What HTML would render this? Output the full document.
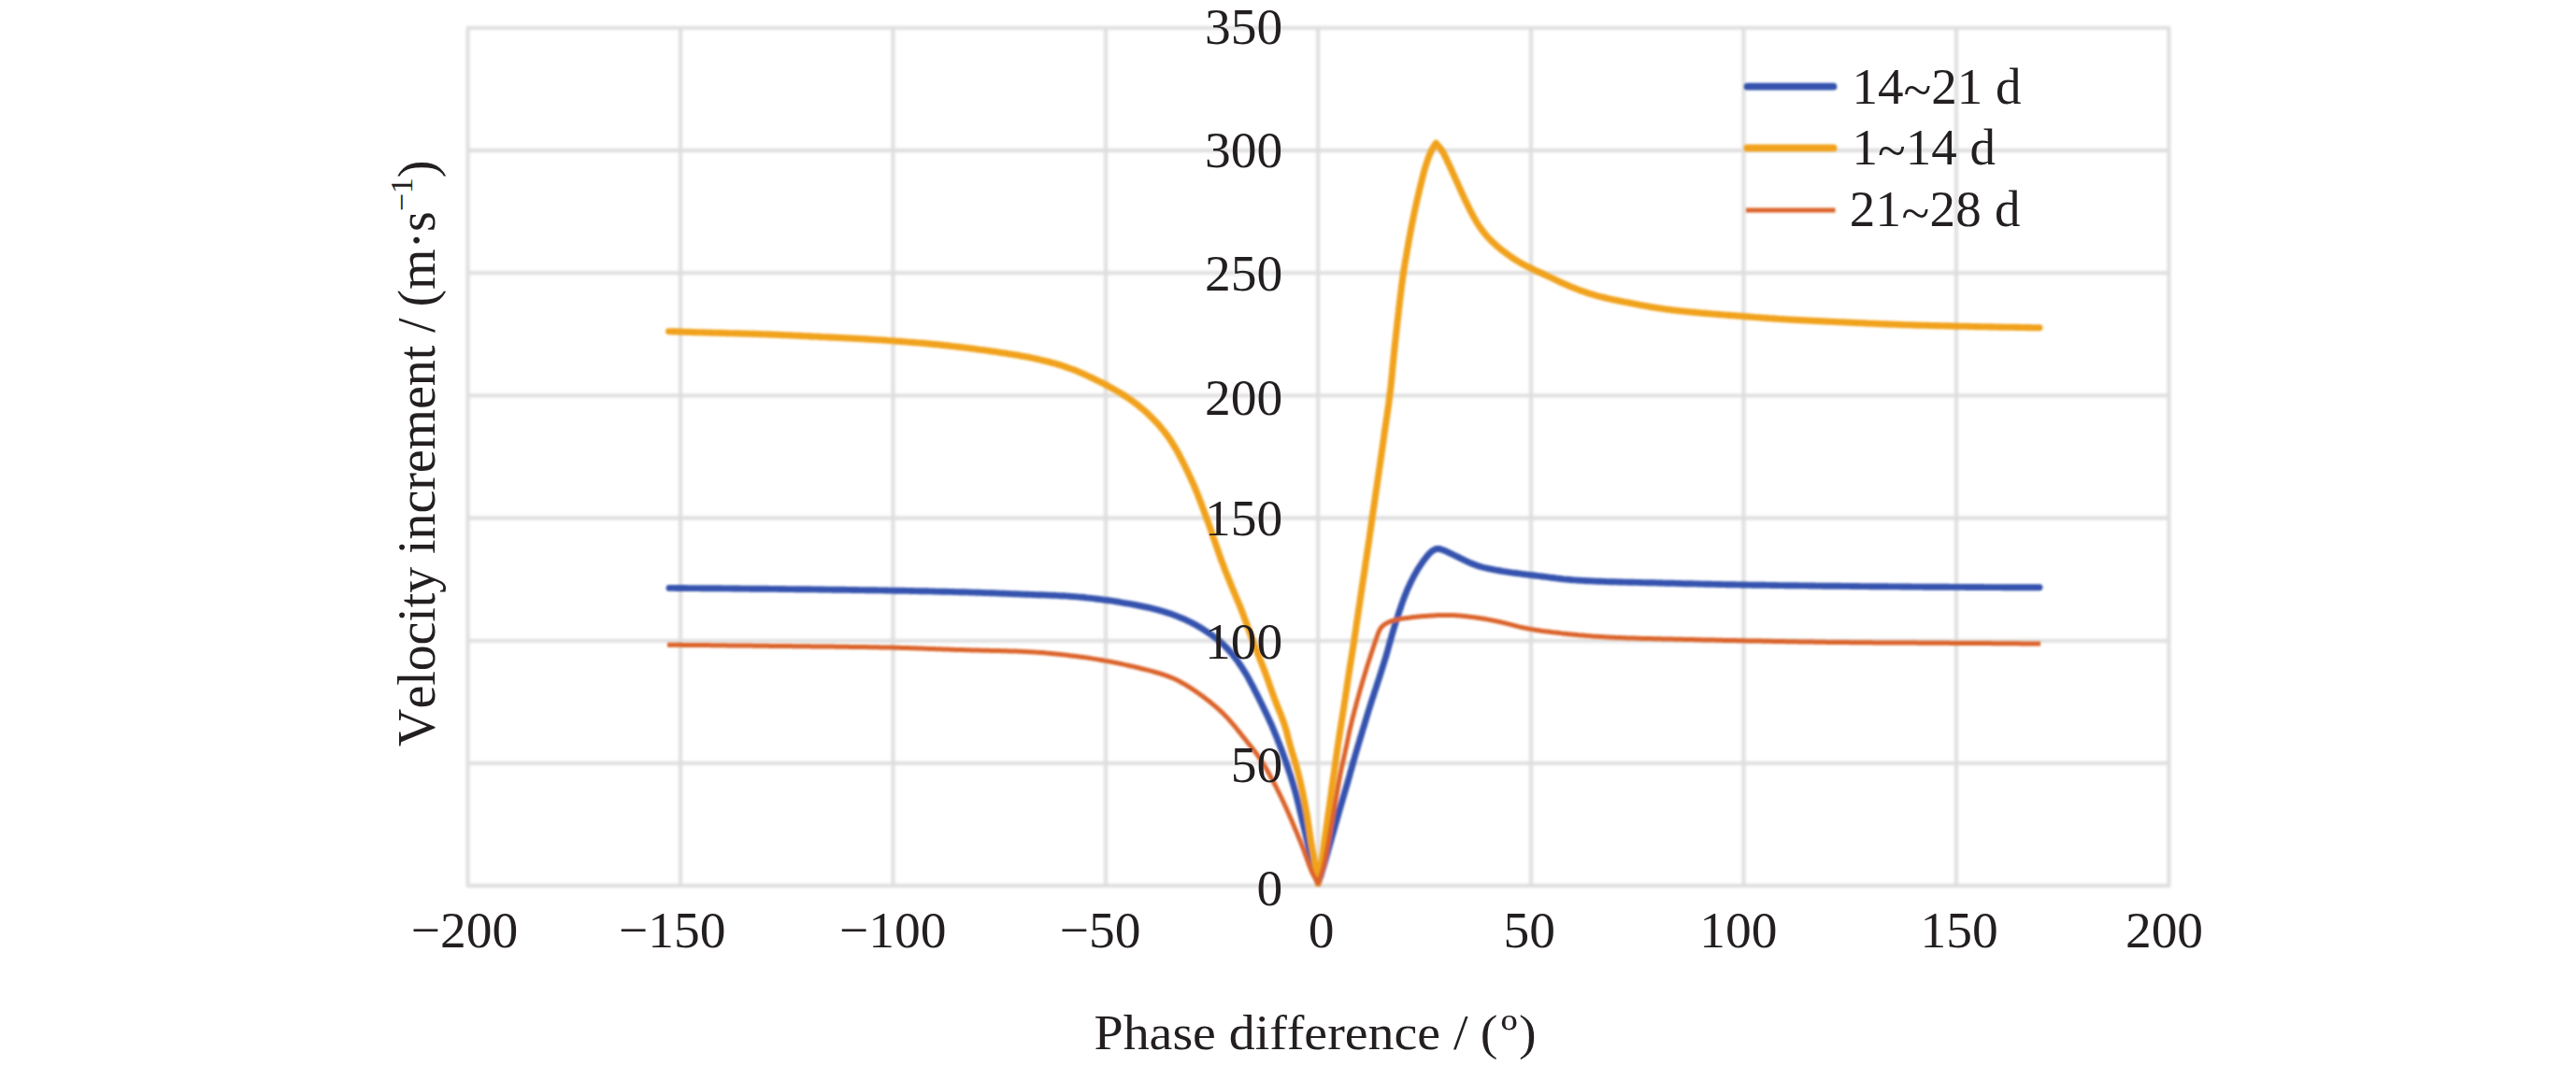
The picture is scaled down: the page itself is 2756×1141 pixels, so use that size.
<!DOCTYPE html>
<html><head><meta charset="utf-8"><title>Velocity increment vs phase difference</title>
<style>
html,body{margin:0;padding:0;background:#fff;}
body{width:2756px;height:1141px;overflow:hidden;}
svg{display:block;}
text{font-family:"Liberation Serif","Times New Roman",serif;font-size:56px;fill:#231f20;font-kerning:none;}
.grid line{stroke:#dddddd;stroke-width:3.8;}
</style></head><body>
<svg width="2756" height="1141" viewBox="0 0 2756 1141">
<rect width="2756" height="1141" fill="#ffffff"/>
<defs><filter id="soft" filterUnits="userSpaceOnUse" x="0" y="0" width="2756" height="1141"><feGaussianBlur stdDeviation="1.3"/></filter><filter id="softer" filterUnits="userSpaceOnUse" x="0" y="0" width="2756" height="1141"><feGaussianBlur stdDeviation="1.8"/></filter></defs>
<g class="grid" filter="url(#softer)"><line x1="500.5" y1="29.8" x2="500.5" y2="948"/><line x1="728" y1="29.8" x2="728" y2="948"/><line x1="955.5" y1="29.8" x2="955.5" y2="948"/><line x1="1183" y1="29.8" x2="1183" y2="948"/><line x1="1410.2" y1="29.8" x2="1410.2" y2="948"/><line x1="1638" y1="29.8" x2="1638" y2="948"/><line x1="1865.5" y1="29.8" x2="1865.5" y2="948"/><line x1="2093" y1="29.8" x2="2093" y2="948"/><line x1="2320.5" y1="29.8" x2="2320.5" y2="948"/><line x1="499.0" y1="29.8" x2="2322.0" y2="29.8"/><line x1="499.0" y1="161" x2="2322.0" y2="161"/><line x1="499.0" y1="292.1" x2="2322.0" y2="292.1"/><line x1="499.0" y1="423.3" x2="2322.0" y2="423.3"/><line x1="499.0" y1="554.5" x2="2322.0" y2="554.5"/><line x1="499.0" y1="685.8" x2="2322.0" y2="685.8"/><line x1="499.0" y1="816.8" x2="2322.0" y2="816.8"/><line x1="499.0" y1="948" x2="2322.0" y2="948"/></g>
<g filter="url(#soft)">
<g><path d="M716.0 629.4 L718.0 629.4 L721.0 629.4 L723.0 629.5 L726.0 629.5 L728.0 629.5 L731.0 629.5 L733.0 629.5 L736.0 629.6 L738.0 629.6 L741.0 629.6 L743.0 629.6 L746.0 629.6 L748.0 629.6 L751.0 629.7 L753.0 629.7 L756.0 629.7 L758.0 629.7 L761.0 629.8 L763.0 629.8 L766.0 629.8 L768.0 629.8 L771.0 629.8 L773.0 629.9 L776.0 629.9 L778.0 629.9 L781.0 629.9 L783.0 630.0 L786.0 630.0 L788.0 630.0 L791.0 630.0 L793.0 630.1 L796.0 630.1 L798.0 630.1 L801.0 630.1 L803.0 630.2 L806.0 630.2 L808.0 630.2 L811.0 630.2 L814.0 630.3 L816.0 630.3 L819.0 630.3 L821.0 630.3 L824.0 630.4 L826.0 630.4 L829.0 630.4 L831.0 630.4 L834.0 630.5 L836.0 630.5 L839.0 630.5 L841.0 630.6 L844.0 630.6 L846.0 630.6 L849.0 630.6 L851.0 630.7 L854.0 630.7 L856.0 630.7 L859.0 630.8 L861.0 630.8 L864.0 630.8 L866.0 630.8 L869.0 630.9 L871.0 630.9 L874.0 630.9 L876.0 631.0 L879.0 631.0 L881.0 631.0 L884.0 631.1 L886.0 631.1 L889.0 631.1 L891.0 631.2 L894.0 631.2 L896.0 631.2 L899.0 631.3 L901.0 631.3 L904.0 631.3 L906.0 631.4 L909.0 631.4 L912.0 631.5 L914.0 631.5 L917.0 631.5 L919.1 631.6 L922.1 631.6 L924.1 631.6 L927.1 631.7 L929.1 631.7 L932.1 631.7 L934.1 631.8 L937.1 631.8 L939.1 631.9 L942.1 631.9 L944.1 631.9 L947.1 632.0 L949.1 632.0 L952.1 632.1 L954.1 632.1 L957.1 632.2 L959.1 632.2 L962.1 632.2 L964.1 632.3 L967.1 632.3 L969.1 632.4 L972.1 632.4 L974.1 632.5 L977.1 632.5 L979.1 632.6 L982.1 632.6 L984.1 632.7 L987.1 632.7 L989.1 632.8 L992.1 632.8 L994.1 632.9 L997.1 632.9 L999.1 633.0 L1002.1 633.1 L1004.1 633.1 L1007.1 633.2 L1010.1 633.2 L1012.1 633.3 L1015.1 633.4 L1017.1 633.4 L1020.1 633.5 L1022.1 633.6 L1025.1 633.6 L1027.1 633.7 L1030.1 633.8 L1032.1 633.8 L1035.1 633.9 L1037.1 634.0 L1040.1 634.1 L1042.1 634.1 L1045.1 634.2 L1047.1 634.3 L1050.1 634.4 L1052.1 634.5 L1055.1 634.6 L1057.1 634.6 L1060.1 634.7 L1062.1 634.8 L1065.1 634.9 L1067.1 635.0 L1070.0 635.1 L1072.0 635.2 L1075.0 635.3 L1077.0 635.4 L1080.0 635.5 L1082.0 635.6 L1085.0 635.7 L1087.0 635.8 L1090.0 635.9 L1092.0 636.0 L1095.0 636.1 L1097.0 636.2 L1100.0 636.3 L1102.0 636.4 L1105.0 636.5 L1108.0 636.6 L1110.0 636.7 L1113.0 636.8 L1115.0 636.8 L1118.0 636.9 L1120.0 637.0 L1123.0 637.1 L1125.0 637.2 L1128.0 637.3 L1130.0 637.4 L1133.0 637.6 L1135.0 637.7 L1138.0 637.8 L1140.0 637.9 L1143.0 638.1 L1145.0 638.3 L1148.0 638.5 L1150.0 638.6 L1153.0 638.9 L1155.0 639.1 L1158.0 639.3 L1160.0 639.5 L1162.9 639.9 L1164.9 640.1 L1167.9 640.4 L1169.9 640.6 L1172.9 641.0 L1174.9 641.2 L1177.8 641.6 L1179.8 641.9 L1182.8 642.3 L1184.8 642.5 L1187.8 642.9 L1189.7 643.2 L1192.7 643.7 L1194.7 644.0 L1197.6 644.4 L1199.6 644.8 L1202.6 645.3 L1205.5 645.8 L1207.5 646.1 L1210.5 646.7 L1212.4 647.0 L1215.4 647.6 L1217.3 648.0 L1220.3 648.6 L1222.2 649.0 L1225.2 649.6 L1227.1 650.0 L1230.1 650.7 L1232.0 651.2 L1234.9 651.9 L1236.9 652.4 L1239.8 653.1 L1241.7 653.7 L1244.6 654.5 L1246.5 655.1 L1249.3 656.0 L1251.2 656.6 L1254.1 657.6 L1255.9 658.3 L1258.7 659.4 L1260.6 660.1 L1263.4 661.3 L1265.2 662.0 L1268.0 663.2 L1269.8 664.1 L1272.5 665.4 L1274.3 666.2 L1276.9 667.6 L1278.7 668.6 L1281.3 670.0 L1283.0 671.1 L1285.6 672.6 L1287.3 673.7 L1289.8 675.3 L1291.5 676.4 L1294.0 678.1 L1296.4 679.8 L1298.0 681.0 L1300.4 682.8 L1302.0 684.0 L1304.3 685.9 L1305.8 687.2 L1308.0 689.2 L1309.5 690.6 L1311.6 692.7 L1313.0 694.2 L1315.0 696.4 L1316.4 697.9 L1318.3 700.1 L1319.6 701.7 L1321.4 704.0 L1322.6 705.6 L1324.4 708.1 L1325.5 709.7 L1327.2 712.2 L1328.3 713.8 L1329.9 716.4 L1331.0 718.1 L1332.6 720.6 L1333.6 722.3 L1335.1 724.9 L1336.1 726.7 L1337.5 729.3 L1338.4 731.1 L1339.8 733.7 L1340.8 735.5 L1342.1 738.2 L1343.0 740.0 L1344.4 742.6 L1345.3 744.4 L1346.6 747.1 L1347.5 748.9 L1348.8 751.6 L1349.7 753.4 L1351.0 756.1 L1352.3 758.8 L1353.2 760.6 L1354.5 763.3 L1355.4 765.1 L1356.6 767.8 L1357.5 769.6 L1358.7 772.4 L1359.6 774.2 L1360.8 776.9 L1361.6 778.8 L1362.7 781.5 L1363.5 783.4 L1364.6 786.2 L1365.4 788.0 L1366.5 790.8 L1367.2 792.7 L1368.3 795.4 L1369.1 797.3 L1370.1 800.1 L1370.9 802.0 L1371.9 804.8 L1372.6 806.7 L1373.6 809.5 L1374.3 811.4 L1375.3 814.2 L1376.0 816.1 L1376.9 818.9 L1377.6 820.8 L1378.5 823.7 L1379.1 825.6 L1380.1 828.4 L1380.7 830.3 L1381.6 833.2 L1382.1 835.1 L1383.0 838.0 L1383.6 839.9 L1384.4 842.8 L1385.0 844.7 L1385.8 847.6 L1386.6 850.5 L1387.1 852.4 L1387.8 855.3 L1388.3 857.3 L1389.0 860.2 L1389.5 862.1 L1390.2 865.1 L1390.6 867.0 L1391.3 869.9 L1391.8 871.9 L1392.5 874.8 L1392.9 876.7 L1393.6 879.7 L1394.1 881.6 L1394.8 884.5 L1395.3 886.5 L1396.0 889.4 L1396.5 891.3 L1397.2 894.2 L1397.6 896.2 L1398.3 899.1 L1398.8 901.0 L1399.5 904.0 L1400.0 905.9 L1400.7 908.8 L1401.2 910.8 L1401.9 913.7 L1402.4 915.6 L1403.2 918.5 L1403.7 920.5 L1404.4 923.4 L1404.9 925.3 L1405.7 928.2 L1406.2 930.1 L1406.9 933.0 L1407.5 935.0 L1408.2 937.9 L1408.7 939.8 L1409.5 942.7 L1410.3 945.6 L1410.9 943.7 L1411.8 940.8 L1412.5 938.9 L1413.4 936.1 L1414.0 934.2 L1414.8 931.3 L1415.4 929.4 L1416.3 926.5 L1416.8 924.6 L1417.7 921.7 L1418.2 919.8 L1419.0 916.9 L1419.6 915.0 L1420.4 912.1 L1420.9 910.1 L1421.8 907.2 L1422.3 905.3 L1423.1 902.4 L1423.7 900.5 L1424.5 897.6 L1425.0 895.7 L1425.9 892.8 L1426.4 890.9 L1427.2 888.0 L1427.8 886.1 L1428.6 883.2 L1429.1 881.2 L1430.0 878.4 L1430.5 876.4 L1431.3 873.5 L1431.9 871.6 L1432.7 868.7 L1433.2 866.8 L1434.1 863.9 L1434.6 862.0 L1435.5 859.1 L1436.0 857.2 L1436.9 854.3 L1437.4 852.4 L1438.3 849.5 L1438.8 847.6 L1439.7 844.7 L1440.2 842.8 L1441.1 839.9 L1441.6 838.0 L1442.4 835.1 L1443.0 833.2 L1443.8 830.3 L1444.3 828.3 L1445.1 825.4 L1445.7 823.5 L1446.5 820.6 L1447.0 818.7 L1447.8 815.8 L1448.3 813.9 L1449.2 811.0 L1449.7 809.1 L1450.6 806.2 L1451.1 804.3 L1452.0 801.4 L1452.5 799.5 L1453.4 796.6 L1454.0 794.7 L1454.8 791.8 L1455.4 789.9 L1456.3 787.0 L1456.9 785.1 L1457.7 782.2 L1458.6 779.3 L1459.2 777.4 L1460.1 774.5 L1460.6 772.6 L1461.5 769.8 L1462.1 767.8 L1462.9 765.0 L1463.5 763.0 L1464.4 760.2 L1465.0 758.3 L1465.9 755.4 L1466.5 753.5 L1467.4 750.6 L1468.0 748.7 L1469.0 745.9 L1469.6 744.0 L1470.5 741.1 L1471.1 739.2 L1472.1 736.4 L1472.7 734.5 L1473.6 731.6 L1474.2 729.7 L1475.2 726.8 L1475.8 724.9 L1476.7 722.1 L1477.3 720.2 L1478.2 717.3 L1478.8 715.4 L1479.7 712.5 L1480.3 710.6 L1481.2 707.8 L1481.8 705.8 L1482.7 703.0 L1483.2 701.0 L1484.0 698.2 L1484.6 696.2 L1485.4 693.3 L1485.9 691.4 L1486.7 688.5 L1487.3 686.6 L1488.1 683.7 L1488.6 681.8 L1489.4 678.9 L1490.0 677.0 L1490.9 674.1 L1491.4 672.2 L1492.3 669.3 L1492.9 667.4 L1493.8 664.5 L1494.4 662.6 L1495.4 659.8 L1496.0 657.9 L1496.9 655.0 L1497.5 653.1 L1498.5 650.3 L1499.1 648.4 L1500.1 645.5 L1500.8 643.6 L1501.8 640.8 L1502.5 639.0 L1503.6 636.2 L1504.4 634.3 L1505.5 631.5 L1506.3 629.7 L1507.6 627.0 L1508.4 625.2 L1509.7 622.5 L1510.6 620.7 L1512.0 618.0 L1513.4 615.4 L1514.4 613.6 L1515.9 611.0 L1516.9 609.3 L1518.5 606.7 L1519.6 605.1 L1521.3 602.6 L1522.4 601.0 L1524.2 598.5 L1525.5 597.0 L1527.4 594.6 L1528.7 593.1 L1530.8 591.0 L1532.3 589.7 L1534.9 588.2 L1536.7 587.5 L1539.7 587.5 L1541.6 587.9 L1544.4 588.9 L1546.3 589.7 L1549.0 591.0 L1550.8 591.8 L1553.5 593.1 L1555.3 594.0 L1558.0 595.3 L1559.8 596.2 L1562.5 597.6 L1564.3 598.4 L1567.0 599.8 L1568.8 600.6 L1571.5 601.9 L1573.4 602.7 L1576.1 603.8 L1578.0 604.6 L1580.8 605.6 L1582.7 606.2 L1585.6 607.0 L1587.5 607.5 L1590.5 608.2 L1592.4 608.6 L1595.4 609.2 L1597.3 609.6 L1600.3 610.2 L1602.3 610.5 L1605.2 611.0 L1607.2 611.4 L1610.2 611.8 L1612.1 612.1 L1615.1 612.6 L1617.1 612.9 L1620.1 613.3 L1622.0 613.5 L1625.0 613.9 L1627.0 614.2 L1630.0 614.6 L1632.0 614.8 L1635.0 615.2 L1636.9 615.4 L1639.9 615.8 L1641.9 616.0 L1644.9 616.4 L1646.9 616.6 L1649.9 617.0 L1651.8 617.2 L1654.8 617.6 L1656.8 617.9 L1659.8 618.3 L1661.8 618.5 L1664.8 618.9 L1667.7 619.3 L1669.7 619.5 L1672.7 619.9 L1674.7 620.1 L1677.7 620.3 L1679.7 620.5 L1682.7 620.8 L1684.7 620.9 L1687.6 621.1 L1689.6 621.2 L1692.6 621.4 L1694.6 621.5 L1697.6 621.7 L1699.6 621.8 L1702.6 621.9 L1704.6 622.0 L1707.6 622.1 L1709.6 622.2 L1712.6 622.3 L1714.6 622.4 L1717.6 622.5 L1719.6 622.6 L1722.6 622.7 L1724.7 622.7 L1727.7 622.8 L1729.7 622.9 L1732.7 623.0 L1734.7 623.0 L1737.7 623.1 L1739.7 623.1 L1742.7 623.2 L1744.7 623.3 L1747.7 623.3 L1749.7 623.4 L1752.7 623.4 L1754.7 623.5 L1757.7 623.6 L1759.7 623.6 L1762.7 623.7 L1764.7 623.7 L1767.7 623.8 L1769.7 623.8 L1772.7 623.9 L1774.7 624.0 L1777.7 624.0 L1779.7 624.1 L1782.7 624.2 L1784.7 624.2 L1787.7 624.3 L1789.7 624.3 L1792.7 624.4 L1794.7 624.5 L1797.7 624.5 L1799.7 624.6 L1802.7 624.7 L1804.7 624.7 L1807.7 624.8 L1809.7 624.8 L1812.7 624.9 L1814.7 624.9 L1817.7 625.0 L1819.7 625.1 L1822.7 625.1 L1824.7 625.2 L1827.7 625.2 L1829.7 625.3 L1832.7 625.4 L1834.7 625.4 L1837.7 625.5 L1840.7 625.5 L1842.7 625.6 L1845.7 625.6 L1847.7 625.7 L1850.7 625.7 L1852.7 625.8 L1855.7 625.8 L1857.7 625.9 L1860.7 625.9 L1862.7 626.0 L1865.7 626.0 L1867.7 626.0 L1870.7 626.1 L1872.7 626.1 L1875.7 626.2 L1877.7 626.2 L1880.7 626.2 L1882.7 626.3 L1885.8 626.3 L1887.8 626.3 L1890.8 626.4 L1892.8 626.4 L1895.8 626.5 L1897.8 626.5 L1900.8 626.5 L1902.8 626.6 L1905.8 626.6 L1907.8 626.6 L1910.8 626.7 L1912.8 626.7 L1915.8 626.7 L1917.8 626.8 L1920.8 626.8 L1922.8 626.8 L1925.8 626.9 L1927.8 626.9 L1930.8 626.9 L1932.8 626.9 L1935.8 627.0 L1937.8 627.0 L1940.8 627.0 L1942.8 627.1 L1945.8 627.1 L1947.8 627.1 L1950.8 627.2 L1952.8 627.2 L1955.8 627.2 L1957.8 627.2 L1960.8 627.3 L1962.8 627.3 L1965.8 627.3 L1967.8 627.3 L1970.8 627.4 L1972.8 627.4 L1975.8 627.4 L1977.8 627.4 L1980.8 627.5 L1982.8 627.5 L1985.8 627.5 L1987.8 627.5 L1990.8 627.6 L1992.8 627.6 L1995.8 627.6 L1997.8 627.6 L2000.8 627.7 L2002.8 627.7 L2005.8 627.7 L2007.9 627.7 L2010.9 627.8 L2013.9 627.8 L2015.9 627.8 L2018.9 627.8 L2020.9 627.9 L2023.9 627.9 L2025.9 627.9 L2028.9 627.9 L2030.9 627.9 L2033.9 628.0 L2035.9 628.0 L2038.9 628.0 L2040.9 628.0 L2043.9 628.0 L2045.9 628.1 L2048.9 628.1 L2050.9 628.1 L2053.9 628.1 L2055.9 628.1 L2058.9 628.2 L2060.9 628.2 L2063.9 628.2 L2065.9 628.2 L2068.9 628.2 L2070.9 628.3 L2073.9 628.3 L2075.9 628.3 L2078.9 628.3 L2080.9 628.3 L2083.9 628.3 L2085.9 628.4 L2088.9 628.4 L2090.9 628.4 L2093.9 628.4 L2095.9 628.4 L2098.9 628.4 L2100.9 628.4 L2103.9 628.5 L2105.9 628.5 L2108.9 628.5 L2110.9 628.5 L2113.9 628.5 L2115.9 628.5 L2118.9 628.5 L2120.9 628.5 L2123.9 628.6 L2126.0 628.6 L2129.0 628.6 L2131.0 628.6 L2134.0 628.6 L2136.0 628.6 L2139.0 628.6 L2141.0 628.6 L2144.0 628.7 L2146.0 628.7 L2149.0 628.7 L2151.0 628.7 L2154.0 628.7 L2156.0 628.7 L2159.0 628.7 L2161.0 628.7 L2164.0 628.7 L2166.0 628.7 L2169.0 628.8 L2171.0 628.8 L2174.0 628.8 L2176.0 628.8 L2179.0 628.8 L2182.0 628.8" fill="none" stroke="#3553ae" stroke-width="6.9" stroke-linecap="round" stroke-linejoin="round"/><path d="M715.5 354.7 L717.5 354.8 L720.5 354.9 L722.5 354.9 L725.5 355.0 L727.5 355.1 L730.5 355.2 L732.5 355.3 L735.5 355.4 L737.5 355.4 L740.5 355.5 L742.5 355.6 L745.5 355.7 L747.5 355.7 L750.5 355.8 L752.5 355.9 L755.5 356.0 L757.5 356.0 L760.5 356.1 L762.5 356.2 L765.5 356.2 L767.5 356.3 L770.5 356.4 L772.5 356.4 L775.5 356.5 L777.5 356.6 L780.5 356.7 L782.5 356.7 L785.5 356.8 L787.5 356.9 L790.5 356.9 L792.5 357.0 L795.5 357.1 L797.5 357.1 L800.5 357.2 L802.5 357.3 L805.5 357.4 L807.5 357.4 L810.5 357.5 L812.5 357.6 L815.5 357.7 L817.5 357.8 L820.5 357.9 L822.5 357.9 L825.5 358.1 L827.5 358.1 L830.5 358.3 L832.5 358.4 L835.5 358.5 L837.4 358.6 L840.4 358.7 L842.4 358.8 L845.4 358.9 L847.4 359.0 L850.4 359.2 L853.4 359.3 L855.4 359.4 L858.4 359.6 L860.4 359.7 L863.4 359.8 L865.4 359.9 L868.4 360.1 L870.4 360.2 L873.4 360.3 L875.4 360.4 L878.4 360.6 L880.4 360.7 L883.4 360.8 L885.4 360.9 L888.4 361.1 L890.4 361.1 L893.4 361.3 L895.4 361.4 L898.4 361.5 L900.4 361.6 L903.4 361.8 L905.4 361.9 L908.4 362.0 L910.4 362.1 L913.4 362.3 L915.4 362.4 L918.4 362.5 L920.4 362.6 L923.4 362.8 L925.4 362.9 L928.3 363.1 L930.3 363.2 L933.3 363.4 L935.3 363.5 L938.3 363.7 L940.3 363.8 L943.3 364.0 L945.3 364.1 L948.3 364.3 L950.3 364.5 L953.3 364.7 L955.3 364.8 L958.3 365.1 L960.3 365.2 L963.3 365.4 L965.3 365.6 L968.3 365.8 L970.3 366.0 L973.2 366.2 L975.2 366.4 L978.2 366.6 L980.2 366.8 L983.2 367.0 L986.2 367.3 L988.2 367.4 L991.2 367.7 L993.2 367.9 L996.2 368.2 L998.2 368.4 L1001.1 368.6 L1003.1 368.8 L1006.1 369.1 L1008.1 369.4 L1011.1 369.7 L1013.1 369.9 L1016.1 370.2 L1018.0 370.5 L1021.0 370.8 L1023.0 371.0 L1026.0 371.4 L1028.0 371.6 L1031.0 372.0 L1032.9 372.2 L1035.9 372.6 L1037.9 372.9 L1040.9 373.2 L1042.9 373.5 L1045.8 373.9 L1047.8 374.2 L1050.8 374.5 L1052.8 374.8 L1055.7 375.2 L1057.7 375.5 L1060.7 375.9 L1062.7 376.2 L1065.6 376.6 L1067.6 376.9 L1070.6 377.4 L1072.6 377.7 L1075.5 378.1 L1077.5 378.4 L1080.5 378.9 L1082.5 379.2 L1085.4 379.7 L1087.4 380.0 L1090.3 380.5 L1092.3 380.9 L1095.3 381.4 L1097.2 381.8 L1100.2 382.3 L1102.1 382.7 L1105.1 383.4 L1107.0 383.8 L1110.0 384.4 L1111.9 384.9 L1114.8 385.6 L1117.7 386.3 L1119.7 386.7 L1122.6 387.5 L1124.5 388.0 L1127.4 388.8 L1129.4 389.3 L1132.2 390.2 L1134.1 390.7 L1137.0 391.7 L1138.9 392.3 L1141.7 393.3 L1143.6 394.0 L1146.4 395.0 L1148.3 395.7 L1151.1 396.8 L1152.9 397.6 L1155.7 398.8 L1157.5 399.6 L1160.2 400.8 L1162.1 401.6 L1164.8 402.9 L1166.6 403.7 L1169.3 405.0 L1171.1 405.9 L1173.8 407.2 L1175.6 408.1 L1178.3 409.4 L1180.1 410.3 L1182.7 411.7 L1184.5 412.7 L1187.1 414.1 L1188.9 415.1 L1191.5 416.6 L1193.2 417.5 L1195.8 419.0 L1197.5 420.0 L1200.1 421.6 L1201.8 422.6 L1204.3 424.3 L1206.0 425.4 L1208.5 427.1 L1210.1 428.2 L1212.5 430.0 L1214.1 431.2 L1216.5 433.0 L1218.1 434.3 L1220.4 436.2 L1221.9 437.4 L1224.2 439.4 L1225.7 440.7 L1227.9 442.7 L1229.3 444.1 L1231.5 446.2 L1233.6 448.3 L1235.0 449.8 L1237.1 451.9 L1238.4 453.4 L1240.4 455.7 L1241.7 457.2 L1243.6 459.5 L1244.9 461.0 L1246.7 463.4 L1247.9 465.0 L1249.7 467.4 L1250.8 469.1 L1252.5 471.6 L1253.6 473.2 L1255.2 475.8 L1256.2 477.5 L1257.8 480.0 L1258.8 481.8 L1260.2 484.4 L1261.2 486.1 L1262.6 488.8 L1263.5 490.6 L1264.9 493.2 L1265.8 495.0 L1267.1 497.7 L1268.0 499.5 L1269.3 502.2 L1270.2 504.0 L1271.5 506.7 L1272.3 508.5 L1273.6 511.2 L1274.4 513.0 L1275.7 515.8 L1276.5 517.6 L1277.7 520.4 L1278.4 522.2 L1279.6 525.0 L1280.4 526.8 L1281.5 529.6 L1282.2 531.5 L1283.3 534.3 L1284.0 536.1 L1285.1 538.9 L1285.8 540.8 L1286.8 543.6 L1287.5 545.5 L1288.6 548.3 L1289.3 550.2 L1290.3 553.0 L1291.0 554.9 L1292.0 557.7 L1292.7 559.6 L1293.7 562.4 L1294.7 565.2 L1295.4 567.1 L1296.3 570.0 L1297.0 571.8 L1298.0 574.7 L1298.6 576.6 L1299.6 579.4 L1300.3 581.3 L1301.2 584.1 L1301.9 586.0 L1302.9 588.9 L1303.5 590.7 L1304.5 593.6 L1305.2 595.5 L1306.2 598.3 L1306.9 600.2 L1308.0 603.0 L1308.7 604.8 L1309.7 607.6 L1310.4 609.5 L1311.5 612.3 L1312.3 614.2 L1313.4 617.0 L1314.1 618.8 L1315.3 621.6 L1316.0 623.4 L1317.1 626.2 L1317.9 628.1 L1319.0 630.8 L1319.8 632.7 L1321.0 635.5 L1321.7 637.3 L1322.9 640.1 L1323.7 641.9 L1324.9 644.7 L1325.6 646.5 L1326.8 649.3 L1327.5 651.1 L1328.6 653.9 L1329.3 655.8 L1330.4 658.6 L1331.0 660.5 L1332.1 663.3 L1332.8 665.2 L1333.8 668.0 L1334.5 669.9 L1335.5 672.7 L1336.2 674.6 L1337.2 677.4 L1337.9 679.3 L1339.0 682.1 L1339.7 684.0 L1340.7 686.8 L1341.8 689.6 L1342.5 691.4 L1343.6 694.2 L1344.3 696.1 L1345.4 698.9 L1346.2 700.8 L1347.3 703.5 L1348.0 705.4 L1349.1 708.2 L1349.8 710.1 L1350.9 712.9 L1351.6 714.7 L1352.7 717.5 L1353.4 719.4 L1354.4 722.2 L1355.1 724.1 L1356.1 726.9 L1356.8 728.8 L1357.8 731.6 L1358.4 733.5 L1359.4 736.4 L1360.1 738.2 L1361.1 741.1 L1361.8 743.0 L1362.8 745.8 L1363.5 747.6 L1364.6 750.4 L1365.3 752.3 L1366.4 755.1 L1367.1 757.0 L1368.2 759.8 L1369.0 761.6 L1370.1 764.4 L1370.8 766.3 L1371.9 769.1 L1372.6 770.9 L1373.6 773.8 L1374.2 775.6 L1375.1 778.5 L1375.7 780.4 L1376.5 783.3 L1377.0 785.2 L1377.7 788.1 L1378.2 790.1 L1379.0 793.0 L1379.5 794.9 L1380.3 797.8 L1380.8 799.7 L1381.7 802.6 L1382.2 804.5 L1383.1 807.4 L1383.7 809.3 L1384.6 812.2 L1385.4 815.1 L1386.0 817.0 L1386.8 819.9 L1387.4 821.8 L1388.1 824.7 L1388.7 826.6 L1389.4 829.5 L1389.9 831.5 L1390.6 834.4 L1391.1 836.3 L1391.7 839.2 L1392.2 841.2 L1392.8 844.1 L1393.2 846.1 L1393.9 849.0 L1394.3 851.0 L1394.8 853.9 L1395.2 855.9 L1395.8 858.8 L1396.2 860.8 L1396.7 863.7 L1397.1 865.7 L1397.6 868.7 L1398.0 870.6 L1398.5 873.6 L1398.8 875.6 L1399.2 878.5 L1399.5 880.5 L1400.0 883.5 L1400.3 885.4 L1400.7 888.4 L1401.0 890.4 L1401.4 893.4 L1401.7 895.3 L1402.1 898.3 L1402.5 900.3 L1403.0 903.2 L1403.4 905.2 L1403.9 908.1 L1404.3 910.1 L1404.9 913.1 L1405.2 915.0 L1405.8 918.0 L1406.1 919.9 L1406.6 922.9 L1407.0 924.9 L1407.5 927.8 L1407.8 929.8 L1408.3 932.8 L1408.6 934.7 L1409.1 937.7 L1409.4 939.7 L1409.8 942.6 L1410.3 945.6 L1410.6 943.6 L1411.1 940.7 L1411.4 938.7 L1411.9 935.7 L1412.2 933.7 L1412.7 930.8 L1413.0 928.8 L1413.4 925.8 L1413.7 923.8 L1414.2 920.9 L1414.5 918.9 L1414.9 915.9 L1415.2 913.9 L1415.6 911.0 L1415.9 909.0 L1416.3 906.0 L1416.5 904.0 L1416.9 901.1 L1417.2 899.1 L1417.6 896.1 L1417.9 894.1 L1418.3 891.1 L1418.6 889.2 L1419.0 886.2 L1419.3 884.2 L1419.7 881.2 L1420.0 879.2 L1420.4 876.3 L1420.7 874.3 L1421.1 871.3 L1421.4 869.3 L1421.8 866.4 L1422.1 864.4 L1422.5 861.4 L1422.7 859.4 L1423.2 856.4 L1423.4 854.5 L1423.9 851.5 L1424.1 849.5 L1424.6 846.5 L1424.8 844.5 L1425.2 841.6 L1425.5 839.6 L1425.9 836.6 L1426.2 834.6 L1426.6 831.7 L1426.9 829.7 L1427.3 826.7 L1427.6 824.7 L1428.0 821.7 L1428.3 819.8 L1428.7 816.8 L1429.0 814.8 L1429.4 811.8 L1429.8 808.9 L1430.1 806.9 L1430.5 803.9 L1430.8 801.9 L1431.3 798.9 L1431.5 797.0 L1432.0 794.0 L1432.3 792.0 L1432.7 789.0 L1433.0 787.1 L1433.5 784.1 L1433.8 782.1 L1434.2 779.2 L1434.6 777.2 L1435.0 774.2 L1435.3 772.2 L1435.8 769.3 L1436.1 767.3 L1436.6 764.3 L1436.9 762.3 L1437.4 759.4 L1437.7 757.4 L1438.1 754.4 L1438.4 752.5 L1438.9 749.5 L1439.2 747.5 L1439.6 744.5 L1439.9 742.6 L1440.4 739.6 L1440.7 737.6 L1441.1 734.6 L1441.4 732.6 L1441.8 729.7 L1442.1 727.7 L1442.6 724.7 L1442.9 722.8 L1443.3 719.8 L1443.7 717.8 L1444.1 714.8 L1444.4 712.9 L1444.9 709.9 L1445.2 707.9 L1445.7 705.0 L1446.0 703.0 L1446.5 700.0 L1446.8 698.0 L1447.3 695.1 L1447.6 693.1 L1448.1 690.1 L1448.4 688.1 L1448.8 685.2 L1449.1 683.2 L1449.5 680.2 L1450.0 677.3 L1450.3 675.3 L1450.7 672.3 L1451.0 670.3 L1451.4 667.4 L1451.7 665.4 L1452.2 662.4 L1452.4 660.4 L1452.9 657.5 L1453.2 655.5 L1453.6 652.5 L1453.9 650.5 L1454.4 647.6 L1454.7 645.6 L1455.1 642.6 L1455.4 640.6 L1455.9 637.7 L1456.1 635.7 L1456.6 632.7 L1456.9 630.7 L1457.3 627.8 L1457.6 625.8 L1458.1 622.8 L1458.4 620.8 L1458.8 617.9 L1459.1 615.9 L1459.6 612.9 L1459.9 610.9 L1460.3 608.0 L1460.6 606.0 L1461.0 603.0 L1461.3 601.0 L1461.8 598.1 L1462.1 596.1 L1462.5 593.1 L1462.8 591.1 L1463.2 588.2 L1463.5 586.2 L1464.0 583.2 L1464.3 581.2 L1464.7 578.2 L1465.0 576.3 L1465.4 573.3 L1465.7 571.3 L1466.1 568.3 L1466.4 566.4 L1466.8 563.4 L1467.1 561.4 L1467.5 558.4 L1467.8 556.4 L1468.2 553.5 L1468.5 551.5 L1468.9 548.5 L1469.4 545.5 L1469.6 543.6 L1470.1 540.6 L1470.4 538.6 L1470.8 535.6 L1471.1 533.7 L1471.5 530.7 L1471.8 528.7 L1472.2 525.7 L1472.5 523.8 L1473.0 520.8 L1473.3 518.8 L1473.7 515.8 L1474.0 513.8 L1474.4 510.9 L1474.7 508.9 L1475.2 505.9 L1475.4 503.9 L1475.9 501.0 L1476.2 499.0 L1476.6 496.0 L1476.9 494.0 L1477.3 491.1 L1477.6 489.1 L1478.0 486.1 L1478.3 484.1 L1478.7 481.2 L1479.0 479.2 L1479.4 476.2 L1479.7 474.2 L1480.1 471.2 L1480.4 469.3 L1480.8 466.3 L1481.1 464.3 L1481.5 461.3 L1481.8 459.4 L1482.2 456.4 L1482.5 454.4 L1483.0 451.4 L1483.2 449.4 L1483.7 446.5 L1484.0 444.5 L1484.4 441.5 L1484.7 439.5 L1485.1 436.6 L1485.4 434.6 L1485.8 431.6 L1486.0 429.6 L1486.4 426.6 L1486.7 424.7 L1487.0 421.7 L1487.3 419.7 L1487.6 416.7 L1488.0 413.7 L1488.2 411.7 L1488.5 408.7 L1488.7 406.8 L1489.0 403.8 L1489.2 401.8 L1489.5 398.8 L1489.6 396.8 L1489.9 393.8 L1490.1 391.8 L1490.4 388.8 L1490.6 386.8 L1490.9 383.8 L1491.1 381.8 L1491.4 378.9 L1491.6 376.9 L1491.9 373.9 L1492.1 371.9 L1492.4 368.9 L1492.6 366.9 L1493.0 363.9 L1493.2 361.9 L1493.5 358.9 L1493.7 357.0 L1494.0 354.0 L1494.3 352.0 L1494.6 349.0 L1494.8 347.0 L1495.1 344.0 L1495.4 342.0 L1495.7 339.0 L1495.9 337.1 L1496.3 334.1 L1496.5 332.1 L1496.8 329.1 L1497.1 327.1 L1497.4 324.1 L1497.6 322.1 L1498.0 319.2 L1498.2 317.2 L1498.6 314.2 L1498.8 312.2 L1499.2 309.2 L1499.4 307.2 L1499.8 304.3 L1500.1 302.3 L1500.5 299.3 L1500.8 297.3 L1501.2 294.3 L1501.5 292.4 L1501.9 289.4 L1502.2 287.4 L1502.7 284.5 L1503.2 281.5 L1503.5 279.5 L1504.0 276.6 L1504.4 274.6 L1504.9 271.6 L1505.2 269.6 L1505.7 266.7 L1506.1 264.7 L1506.6 261.8 L1506.9 259.8 L1507.5 256.8 L1507.8 254.9 L1508.4 251.9 L1508.7 249.9 L1509.3 247.0 L1509.7 245.0 L1510.2 242.1 L1510.6 240.1 L1511.2 237.2 L1511.6 235.2 L1512.2 232.2 L1512.6 230.3 L1513.2 227.3 L1513.6 225.4 L1514.2 222.5 L1514.7 220.5 L1515.3 217.6 L1515.8 215.6 L1516.4 212.7 L1516.9 210.7 L1517.6 207.8 L1518.0 205.9 L1518.7 202.9 L1519.2 201.0 L1519.9 198.1 L1520.4 196.1 L1521.1 193.2 L1521.6 191.3 L1522.3 188.4 L1522.8 186.4 L1523.6 183.5 L1524.1 181.6 L1525.0 178.7 L1525.6 176.8 L1526.5 173.9 L1527.1 172.0 L1528.1 169.2 L1528.8 167.3 L1530.0 164.5 L1530.8 162.7 L1532.1 160.1 L1533.1 158.3 L1534.6 155.7 L1536.3 153.2 L1537.6 154.7 L1539.6 157.0 L1540.8 158.6 L1542.6 161.0 L1543.6 162.7 L1545.1 165.3 L1546.0 167.1 L1547.3 169.8 L1548.1 171.6 L1549.4 174.4 L1550.3 176.2 L1551.5 178.9 L1552.4 180.7 L1553.6 183.5 L1554.4 185.3 L1555.7 188.0 L1556.5 189.9 L1557.7 192.6 L1558.6 194.4 L1559.8 197.2 L1560.6 199.0 L1561.9 201.7 L1562.7 203.5 L1563.9 206.3 L1564.8 208.1 L1566.0 210.8 L1566.8 212.7 L1568.1 215.4 L1569.0 217.2 L1570.3 219.9 L1571.1 221.7 L1572.5 224.4 L1573.4 226.2 L1574.8 228.8 L1575.7 230.6 L1577.2 233.2 L1578.7 235.8 L1579.7 237.5 L1581.3 240.1 L1582.4 241.8 L1584.1 244.2 L1585.2 245.8 L1587.1 248.2 L1588.3 249.8 L1590.2 252.1 L1591.6 253.6 L1593.6 255.8 L1595.0 257.2 L1597.1 259.3 L1598.6 260.7 L1600.8 262.7 L1602.3 264.0 L1604.6 265.9 L1606.1 267.2 L1608.5 269.0 L1610.1 270.2 L1612.5 272.0 L1614.2 273.2 L1616.6 274.9 L1618.3 276.0 L1620.8 277.7 L1622.5 278.8 L1625.0 280.3 L1626.7 281.3 L1629.4 282.8 L1631.1 283.8 L1633.8 285.1 L1635.6 286.0 L1638.3 287.3 L1640.1 288.2 L1642.8 289.5 L1645.5 290.7 L1647.3 291.6 L1650.1 292.8 L1651.9 293.7 L1654.6 294.9 L1656.4 295.8 L1659.2 297.1 L1661.0 297.9 L1663.7 299.2 L1665.5 300.1 L1668.2 301.4 L1670.0 302.2 L1672.7 303.5 L1674.6 304.3 L1677.3 305.5 L1679.1 306.3 L1681.9 307.5 L1683.8 308.2 L1686.6 309.3 L1688.4 310.0 L1691.2 311.1 L1693.1 311.7 L1696.0 312.7 L1697.9 313.3 L1700.7 314.3 L1702.7 314.9 L1705.5 315.7 L1707.5 316.3 L1710.4 317.1 L1712.3 317.6 L1715.2 318.3 L1717.1 318.8 L1720.1 319.5 L1722.0 319.9 L1724.9 320.5 L1726.9 321.0 L1729.9 321.6 L1732.8 322.2 L1734.8 322.6 L1737.7 323.2 L1739.7 323.5 L1742.6 324.1 L1744.6 324.5 L1747.5 325.1 L1749.5 325.4 L1752.5 326.0 L1754.4 326.4 L1757.4 326.9 L1759.4 327.3 L1762.3 327.8 L1764.3 328.2 L1767.3 328.7 L1769.2 329.0 L1772.2 329.5 L1774.2 329.8 L1777.1 330.3 L1779.1 330.6 L1782.1 331.0 L1784.1 331.2 L1787.1 331.6 L1789.0 331.9 L1792.0 332.2 L1794.0 332.4 L1797.0 332.8 L1799.0 333.0 L1802.0 333.3 L1804.0 333.5 L1807.0 333.8 L1809.0 334.0 L1811.9 334.3 L1813.9 334.4 L1816.9 334.7 L1819.9 335.0 L1821.9 335.2 L1824.9 335.4 L1826.9 335.6 L1829.9 335.8 L1831.9 336.0 L1834.9 336.2 L1836.9 336.4 L1839.9 336.6 L1841.9 336.8 L1844.9 337.0 L1846.9 337.2 L1849.9 337.4 L1851.9 337.6 L1854.9 337.8 L1856.9 337.9 L1859.9 338.2 L1861.9 338.3 L1864.9 338.5 L1866.8 338.7 L1869.8 338.9 L1871.8 339.1 L1874.8 339.3 L1876.8 339.5 L1879.8 339.7 L1881.8 339.8 L1884.8 340.1 L1886.8 340.2 L1889.8 340.4 L1891.8 340.6 L1894.8 340.8 L1896.8 340.9 L1899.8 341.1 L1901.8 341.3 L1904.8 341.5 L1906.8 341.6 L1909.8 341.8 L1912.8 342.0 L1914.8 342.1 L1917.8 342.3 L1919.8 342.4 L1922.8 342.5 L1924.8 342.6 L1927.8 342.8 L1929.8 342.9 L1932.8 343.0 L1934.8 343.1 L1937.8 343.3 L1939.8 343.4 L1942.8 343.5 L1944.8 343.6 L1947.8 343.8 L1949.8 343.9 L1952.8 344.0 L1954.8 344.1 L1957.8 344.2 L1959.8 344.3 L1962.8 344.5 L1964.8 344.5 L1967.8 344.7 L1969.8 344.8 L1972.8 344.9 L1974.8 345.0 L1977.8 345.1 L1979.8 345.2 L1982.8 345.4 L1984.8 345.5 L1987.8 345.6 L1989.8 345.7 L1992.8 345.8 L1994.8 345.9 L1997.8 346.1 L2000.8 346.2 L2002.8 346.3 L2005.8 346.4 L2007.8 346.5 L2010.8 346.6 L2012.8 346.7 L2015.8 346.9 L2017.8 346.9 L2020.8 347.1 L2022.8 347.1 L2025.8 347.3 L2027.8 347.3 L2030.8 347.4 L2032.8 347.5 L2035.8 347.6 L2037.8 347.7 L2040.8 347.8 L2042.8 347.8 L2045.8 347.9 L2047.8 348.0 L2050.8 348.1 L2052.9 348.1 L2055.9 348.2 L2057.9 348.2 L2060.9 348.3 L2062.9 348.4 L2065.9 348.5 L2067.9 348.5 L2070.9 348.6 L2072.9 348.6 L2075.9 348.7 L2077.9 348.7 L2080.9 348.8 L2082.9 348.9 L2085.9 348.9 L2087.9 349.0 L2090.9 349.1 L2093.9 349.1 L2095.9 349.2 L2098.9 349.2 L2100.9 349.3 L2103.9 349.3 L2105.9 349.4 L2108.9 349.5 L2110.9 349.5 L2113.9 349.6 L2115.9 349.6 L2118.9 349.7 L2120.9 349.7 L2123.9 349.8 L2125.9 349.8 L2128.9 349.9 L2130.9 349.9 L2133.9 350.0 L2135.9 350.0 L2138.9 350.1 L2140.9 350.1 L2144.0 350.2 L2146.0 350.2 L2149.0 350.3 L2151.0 350.3 L2154.0 350.3 L2156.0 350.4 L2159.0 350.4 L2161.0 350.5 L2164.0 350.5 L2166.0 350.5 L2169.0 350.6 L2171.0 350.6 L2174.0 350.7 L2176.0 350.7 L2179.0 350.8 L2182.0 350.8" fill="none" stroke="#f1a21f" stroke-width="7.1" stroke-linecap="round" stroke-linejoin="round"/><path d="M714.0 690.2 L716.0 690.2 L719.0 690.2 L721.0 690.3 L724.0 690.3 L726.0 690.3 L729.0 690.3 L731.0 690.4 L734.0 690.4 L736.0 690.4 L739.0 690.4 L741.0 690.5 L744.0 690.5 L746.0 690.5 L749.0 690.5 L751.0 690.6 L754.0 690.6 L756.0 690.6 L759.0 690.6 L761.0 690.7 L764.0 690.7 L766.0 690.7 L769.0 690.8 L771.0 690.8 L774.0 690.8 L776.0 690.8 L779.0 690.9 L781.0 690.9 L784.0 690.9 L786.0 690.9 L789.0 691.0 L791.0 691.0 L794.0 691.0 L796.0 691.0 L799.0 691.1 L801.0 691.1 L804.0 691.1 L806.0 691.2 L809.0 691.2 L811.0 691.2 L814.0 691.3 L816.0 691.3 L819.0 691.3 L821.0 691.3 L824.0 691.4 L826.0 691.4 L829.0 691.4 L831.0 691.5 L834.0 691.5 L836.0 691.5 L839.0 691.5 L841.0 691.6 L844.0 691.6 L846.0 691.6 L849.0 691.7 L851.0 691.7 L854.0 691.7 L856.0 691.7 L859.1 691.8 L861.1 691.8 L864.1 691.8 L866.1 691.8 L869.1 691.9 L871.1 691.9 L874.1 691.9 L876.1 692.0 L879.1 692.0 L882.1 692.0 L884.1 692.1 L887.1 692.1 L889.1 692.1 L892.1 692.1 L894.1 692.2 L897.1 692.2 L899.1 692.2 L902.1 692.3 L904.1 692.3 L907.1 692.3 L909.1 692.4 L912.1 692.4 L914.1 692.4 L917.1 692.5 L919.1 692.5 L922.1 692.6 L924.1 692.6 L927.1 692.6 L929.1 692.7 L932.1 692.7 L934.1 692.7 L937.1 692.8 L939.1 692.8 L942.1 692.9 L944.1 692.9 L947.1 693.0 L949.1 693.0 L952.1 693.1 L954.1 693.1 L957.1 693.2 L959.1 693.2 L962.1 693.3 L964.1 693.4 L967.1 693.4 L969.1 693.5 L972.1 693.6 L974.1 693.7 L977.1 693.7 L979.1 693.8 L982.1 693.9 L984.1 694.0 L987.1 694.1 L989.1 694.2 L992.1 694.3 L994.1 694.4 L997.1 694.5 L999.1 694.5 L1002.1 694.7 L1004.1 694.7 L1007.1 694.8 L1009.1 694.9 L1012.1 695.0 L1014.1 695.1 L1017.1 695.2 L1019.1 695.3 L1022.1 695.4 L1024.1 695.4 L1027.1 695.5 L1029.1 695.6 L1032.1 695.7 L1034.1 695.8 L1037.1 695.8 L1039.1 695.9 L1042.1 696.0 L1045.1 696.1 L1047.1 696.1 L1050.1 696.2 L1052.1 696.2 L1055.1 696.3 L1057.1 696.3 L1060.1 696.4 L1062.1 696.5 L1065.1 696.5 L1067.1 696.6 L1070.1 696.6 L1072.1 696.7 L1075.1 696.8 L1077.1 696.8 L1080.1 696.9 L1082.1 697.0 L1085.1 697.1 L1087.1 697.1 L1090.1 697.2 L1092.1 697.3 L1095.1 697.4 L1097.1 697.5 L1100.1 697.7 L1102.1 697.8 L1105.1 697.9 L1107.1 698.1 L1110.0 698.3 L1112.0 698.4 L1115.0 698.6 L1117.0 698.8 L1120.0 699.1 L1122.0 699.2 L1125.0 699.5 L1127.0 699.7 L1130.0 700.0 L1132.0 700.2 L1135.0 700.5 L1136.9 700.7 L1139.9 701.1 L1141.9 701.3 L1144.9 701.7 L1146.9 701.9 L1149.9 702.3 L1151.8 702.5 L1154.8 702.9 L1156.8 703.2 L1159.8 703.6 L1161.8 703.9 L1164.7 704.3 L1166.7 704.6 L1169.7 705.1 L1171.7 705.4 L1174.6 705.9 L1176.6 706.2 L1179.5 706.7 L1181.5 707.1 L1184.5 707.6 L1186.4 707.9 L1189.4 708.5 L1191.3 708.9 L1194.3 709.5 L1196.2 709.9 L1199.2 710.5 L1201.1 710.9 L1204.1 711.6 L1207.0 712.2 L1209.0 712.7 L1211.9 713.3 L1213.8 713.8 L1216.8 714.5 L1218.7 715.0 L1221.6 715.7 L1223.6 716.2 L1226.5 716.9 L1228.4 717.4 L1231.3 718.2 L1233.2 718.7 L1236.1 719.5 L1238.1 720.0 L1240.9 720.9 L1242.8 721.5 L1245.7 722.4 L1247.6 723.1 L1250.4 724.1 L1252.2 724.9 L1255.0 726.0 L1256.8 726.8 L1259.5 728.1 L1261.3 729.0 L1263.9 730.5 L1265.7 731.4 L1268.3 732.9 L1270.0 734.0 L1272.5 735.5 L1274.2 736.6 L1276.7 738.3 L1278.4 739.4 L1280.9 741.1 L1282.5 742.2 L1284.9 744.0 L1286.5 745.1 L1288.9 746.9 L1290.5 748.2 L1292.9 750.0 L1294.5 751.3 L1296.8 753.2 L1298.3 754.4 L1300.6 756.4 L1302.1 757.7 L1304.3 759.7 L1305.8 761.0 L1308.0 763.1 L1309.4 764.5 L1311.5 766.7 L1312.9 768.1 L1314.9 770.3 L1316.2 771.8 L1318.2 774.1 L1319.5 775.6 L1321.4 777.9 L1322.7 779.5 L1324.6 781.8 L1325.8 783.4 L1327.7 785.7 L1328.9 787.3 L1330.8 789.6 L1332.0 791.2 L1333.9 793.5 L1335.1 795.1 L1337.0 797.4 L1338.9 799.8 L1340.2 801.3 L1342.0 803.7 L1343.2 805.3 L1345.0 807.7 L1346.1 809.3 L1347.8 811.8 L1348.9 813.5 L1350.5 816.0 L1351.6 817.7 L1353.2 820.3 L1354.2 822.0 L1355.7 824.6 L1356.7 826.3 L1358.1 828.9 L1359.1 830.7 L1360.5 833.3 L1361.5 835.1 L1362.9 837.8 L1363.8 839.5 L1365.2 842.2 L1366.1 844.0 L1367.4 846.7 L1368.3 848.5 L1369.6 851.2 L1370.5 853.0 L1371.8 855.7 L1372.6 857.5 L1373.9 860.2 L1374.7 862.0 L1376.0 864.7 L1376.8 866.6 L1378.0 869.3 L1378.8 871.1 L1380.0 873.9 L1380.8 875.7 L1382.0 878.5 L1382.7 880.3 L1383.9 883.1 L1384.7 885.0 L1385.8 887.7 L1386.6 889.6 L1387.8 892.3 L1388.5 894.2 L1389.7 897.0 L1390.4 898.8 L1391.6 901.6 L1392.3 903.5 L1393.4 906.3 L1394.1 908.1 L1395.2 910.9 L1395.9 912.8 L1396.9 915.6 L1397.6 917.5 L1398.6 920.3 L1399.3 922.2 L1400.3 925.1 L1401.0 926.9 L1402.1 929.7 L1402.8 931.6 L1404.0 934.3 L1404.9 936.1 L1406.3 938.7 L1407.2 940.5 L1408.7 943.0 L1410.3 945.6 L1411.0 943.7 L1412.0 940.9 L1412.6 939.0 L1413.5 936.1 L1414.1 934.2 L1414.9 931.3 L1415.5 929.4 L1416.2 926.5 L1416.7 924.6 L1417.3 921.6 L1417.8 919.7 L1418.4 916.8 L1418.8 914.8 L1419.3 911.8 L1419.7 909.9 L1420.2 906.9 L1420.6 904.9 L1421.1 902.0 L1421.5 900.0 L1422.0 897.0 L1422.3 895.1 L1422.9 892.1 L1423.2 890.1 L1423.7 887.2 L1424.0 885.2 L1424.6 882.3 L1424.9 880.3 L1425.4 877.3 L1425.8 875.4 L1426.3 872.4 L1426.6 870.4 L1427.1 867.5 L1427.5 865.5 L1428.0 862.5 L1428.3 860.6 L1428.9 857.6 L1429.2 855.6 L1429.7 852.7 L1430.1 850.7 L1430.6 847.7 L1430.9 845.8 L1431.4 842.8 L1431.8 840.8 L1432.3 837.9 L1432.6 835.9 L1433.2 832.9 L1433.5 831.0 L1434.1 828.0 L1434.5 826.1 L1435.1 823.1 L1435.5 821.2 L1436.1 818.2 L1436.6 816.3 L1437.2 813.4 L1437.7 811.4 L1438.3 808.5 L1438.8 806.5 L1439.4 803.6 L1439.8 801.6 L1440.5 798.7 L1440.9 796.7 L1441.5 793.8 L1441.9 791.8 L1442.5 788.9 L1442.9 786.9 L1443.5 784.0 L1443.9 782.1 L1444.6 779.1 L1445.1 777.2 L1445.8 774.3 L1446.2 772.3 L1446.9 769.4 L1447.4 767.5 L1448.2 764.5 L1448.7 762.6 L1449.4 759.7 L1450.0 757.8 L1450.7 754.9 L1451.2 752.9 L1452.0 750.0 L1452.6 748.1 L1453.4 745.2 L1453.9 743.3 L1454.7 740.4 L1455.2 738.5 L1456.1 735.6 L1456.6 733.6 L1457.4 730.8 L1458.0 728.8 L1458.9 726.0 L1459.4 724.0 L1460.3 721.2 L1460.9 719.3 L1461.7 716.4 L1462.3 714.5 L1463.2 711.6 L1463.8 709.7 L1464.8 706.8 L1465.7 704.0 L1466.3 702.1 L1467.2 699.2 L1467.9 697.3 L1468.8 694.5 L1469.4 692.6 L1470.3 689.7 L1471.0 687.8 L1471.9 685.0 L1472.6 683.1 L1473.6 680.2 L1474.3 678.3 L1475.4 675.6 L1476.3 673.8 L1477.9 671.3 L1479.3 669.9 L1481.7 668.1 L1483.5 667.1 L1486.2 665.8 L1488.0 665.0 L1490.9 664.1 L1492.8 663.6 L1495.7 663.0 L1497.7 662.6 L1500.7 662.1 L1502.6 661.8 L1505.6 661.4 L1507.6 661.2 L1510.6 660.8 L1512.6 660.6 L1515.6 660.3 L1517.6 660.1 L1520.6 659.8 L1522.6 659.6 L1525.6 659.4 L1527.6 659.2 L1530.5 659.0 L1532.5 658.9 L1535.5 658.7 L1537.5 658.6 L1540.5 658.5 L1542.5 658.4 L1545.5 658.4 L1547.5 658.4 L1550.5 658.4 L1552.5 658.5 L1555.5 658.6 L1557.5 658.7 L1560.5 658.9 L1562.5 659.1 L1565.5 659.4 L1567.5 659.6 L1570.5 659.9 L1572.5 660.2 L1575.4 660.6 L1577.4 660.8 L1580.4 661.2 L1582.4 661.5 L1585.3 662.0 L1587.3 662.3 L1590.3 662.8 L1592.2 663.1 L1595.2 663.7 L1597.2 664.1 L1600.1 664.7 L1602.1 665.1 L1605.0 665.7 L1606.9 666.2 L1609.9 666.9 L1611.8 667.4 L1614.7 668.1 L1616.6 668.6 L1619.6 669.4 L1621.5 669.9 L1624.4 670.6 L1626.3 671.1 L1629.3 671.7 L1631.2 672.1 L1634.2 672.7 L1636.1 673.1 L1639.1 673.6 L1641.1 674.0 L1644.0 674.5 L1646.0 674.8 L1649.0 675.2 L1650.9 675.5 L1653.9 675.9 L1655.9 676.1 L1658.9 676.5 L1660.9 676.8 L1663.9 677.1 L1665.8 677.3 L1668.8 677.6 L1670.8 677.9 L1673.8 678.2 L1675.8 678.4 L1678.8 678.7 L1680.8 678.9 L1683.8 679.2 L1686.8 679.5 L1688.7 679.7 L1691.7 679.9 L1693.7 680.1 L1696.7 680.4 L1698.7 680.6 L1701.7 680.8 L1703.7 681.0 L1706.7 681.2 L1708.7 681.3 L1711.7 681.5 L1713.7 681.6 L1716.7 681.8 L1718.7 681.9 L1721.7 682.1 L1723.7 682.2 L1726.7 682.3 L1728.7 682.4 L1731.7 682.5 L1733.7 682.6 L1736.7 682.7 L1738.7 682.8 L1741.7 682.9 L1743.7 683.0 L1746.7 683.1 L1748.7 683.1 L1751.7 683.2 L1753.7 683.3 L1756.7 683.4 L1758.7 683.4 L1761.7 683.5 L1763.7 683.5 L1766.7 683.6 L1768.7 683.7 L1771.7 683.7 L1773.7 683.8 L1776.7 683.8 L1778.7 683.9 L1781.7 683.9 L1783.7 684.0 L1786.7 684.1 L1788.7 684.1 L1791.7 684.2 L1793.7 684.2 L1796.7 684.3 L1798.7 684.3 L1801.7 684.4 L1803.7 684.5 L1806.7 684.5 L1808.7 684.6 L1811.7 684.6 L1813.7 684.7 L1816.7 684.8 L1818.7 684.8 L1821.7 684.9 L1823.7 684.9 L1826.7 685.0 L1828.7 685.0 L1831.7 685.1 L1833.7 685.1 L1836.7 685.2 L1838.7 685.3 L1841.7 685.3 L1843.7 685.4 L1846.7 685.4 L1848.7 685.5 L1851.7 685.5 L1853.7 685.6 L1856.7 685.6 L1858.7 685.7 L1861.8 685.7 L1863.8 685.8 L1866.8 685.8 L1868.8 685.9 L1871.8 685.9 L1873.8 686.0 L1876.8 686.0 L1878.8 686.1 L1881.8 686.1 L1883.8 686.1 L1886.8 686.2 L1888.8 686.2 L1891.8 686.3 L1893.8 686.3 L1896.8 686.4 L1898.8 686.4 L1901.8 686.5 L1903.8 686.5 L1906.8 686.6 L1908.8 686.6 L1911.8 686.7 L1913.8 686.7 L1916.8 686.8 L1918.8 686.8 L1921.8 686.8 L1923.8 686.9 L1926.8 686.9 L1928.8 687.0 L1931.8 687.0 L1934.8 687.1 L1936.8 687.1 L1939.8 687.1 L1941.8 687.2 L1944.8 687.2 L1946.8 687.2 L1949.8 687.3 L1951.8 687.3 L1954.8 687.4 L1956.8 687.4 L1959.8 687.4 L1961.8 687.5 L1964.8 687.5 L1966.8 687.5 L1969.8 687.6 L1971.8 687.6 L1974.8 687.6 L1976.8 687.6 L1979.8 687.7 L1981.8 687.7 L1984.8 687.7 L1986.8 687.7 L1989.8 687.8 L1991.8 687.8 L1994.8 687.8 L1996.8 687.8 L1999.8 687.8 L2001.9 687.8 L2004.9 687.9 L2006.9 687.9 L2009.9 687.9 L2011.9 687.9 L2014.9 687.9 L2016.9 688.0 L2019.9 688.0 L2021.9 688.0 L2024.9 688.0 L2026.9 688.0 L2029.9 688.0 L2031.9 688.0 L2034.9 688.1 L2036.9 688.1 L2039.9 688.1 L2041.9 688.1 L2044.9 688.1 L2046.9 688.1 L2049.9 688.1 L2051.9 688.2 L2054.9 688.2 L2056.9 688.2 L2059.9 688.2 L2061.9 688.2 L2064.9 688.2 L2066.9 688.2 L2069.9 688.3 L2071.9 688.3 L2074.9 688.3 L2076.9 688.3 L2079.9 688.3 L2081.9 688.3 L2084.9 688.3 L2086.9 688.4 L2089.9 688.4 L2091.9 688.4 L2094.9 688.4 L2096.9 688.4 L2099.9 688.4 L2101.9 688.5 L2104.9 688.5 L2106.9 688.5 L2109.9 688.5 L2111.9 688.5 L2114.9 688.5 L2116.9 688.6 L2119.9 688.6 L2122.0 688.6 L2125.0 688.6 L2127.0 688.6 L2130.0 688.6 L2132.0 688.7 L2135.0 688.7 L2137.0 688.7 L2140.0 688.7 L2142.0 688.7 L2145.0 688.7 L2147.0 688.8 L2150.0 688.8 L2152.0 688.8 L2155.0 688.8 L2157.0 688.8 L2160.0 688.8 L2162.0 688.9 L2165.0 688.9 L2167.0 688.9 L2170.0 688.9 L2172.0 688.9 L2175.0 688.9 L2177.0 689.0 L2180.0 689.0 L2183.0 689.0" fill="none" stroke="#db632a" stroke-width="5.0" stroke-linecap="butt" stroke-linejoin="round"/></g>
<line x1="1869.5" y1="92.7" x2="1961.5" y2="92.7" stroke="#3553ae" stroke-width="7.7" stroke-linecap="round"/>
<line x1="1869.5" y1="158.4" x2="1961.5" y2="158.4" stroke="#f1a21f" stroke-width="7.9" stroke-linecap="round"/>
<line x1="1868" y1="224.9" x2="1963.5" y2="224.9" stroke="#db632a" stroke-width="5" stroke-linecap="butt"/>
</g>
<g>
<text x="1981.5" y="110.9" style="font-size:55px">14<tspan dy="4.5">~</tspan><tspan dy="-4.5">21 d</tspan></text>
<text x="1981.5" y="175.5" style="font-size:55px">1<tspan dy="4.5">~</tspan><tspan dy="-4.5">14 d</tspan></text>
<text x="1978.8" y="242" style="font-size:55px" letter-spacing="0.3">21<tspan dy="4.5">~</tspan><tspan dy="-4.5">28 d</tspan></text>
</g>
<g><text transform="translate(1372.3,46.6) scale(1,0.98)" text-anchor="end" style="font-size:55.5px">350</text><text transform="translate(1372.3,178.8) scale(1,0.98)" text-anchor="end" style="font-size:55.5px">300</text><text transform="translate(1372.3,311.2) scale(1,0.98)" text-anchor="end" style="font-size:55.5px">250</text><text transform="translate(1372.3,443.6) scale(1,0.98)" text-anchor="end" style="font-size:55.5px">200</text><text transform="translate(1372.3,573.3) scale(1,0.98)" text-anchor="end" style="font-size:55.5px">150</text><text transform="translate(1372.3,705) scale(1,0.98)" text-anchor="end" style="font-size:55.5px">100</text><text transform="translate(1372.3,836.8) scale(1,0.98)" text-anchor="end" style="font-size:55.5px">50</text><text transform="translate(1372.3,968.8) scale(1,0.98)" text-anchor="end" style="font-size:55.5px">0</text></g>
<g><text transform="translate(497,1013.8) scale(1,0.98)" text-anchor="middle" style="font-size:55.5px">−200</text><text transform="translate(719.3,1013.8) scale(1,0.98)" text-anchor="middle" style="font-size:55.5px">−150</text><text transform="translate(955.2,1013.8) scale(1,0.98)" text-anchor="middle" style="font-size:55.5px">−100</text><text transform="translate(1177.2,1013.8) scale(1,0.98)" text-anchor="middle" style="font-size:55.5px">−50</text><text transform="translate(1413.7,1013.8) scale(1,0.98)" text-anchor="middle" style="font-size:55.5px">0</text><text transform="translate(1636.2,1013.8) scale(1,0.98)" text-anchor="middle" style="font-size:55.5px">50</text><text transform="translate(1859.8,1013.8) scale(1,0.98)" text-anchor="middle" style="font-size:55.5px">100</text><text transform="translate(2096.2,1013.8) scale(1,0.98)" text-anchor="middle" style="font-size:55.5px">150</text><text transform="translate(2315.5,1013.8) scale(1,0.98)" text-anchor="middle" style="font-size:55.5px">200</text></g>
<text transform="translate(1170.6,1122.5) scale(1,0.95)" letter-spacing="-0.07">Phase difference / <tspan dx="-0.7">(</tspan><tspan font-size="57.4" dx="3.5">º</tspan><tspan dx="1.5">)</tspan></text>
<text transform="translate(464.8,485.3) rotate(-90)" text-anchor="middle" letter-spacing="-0.09">Velocity increment / <tspan dx="-2">(</tspan>m·s<tspan font-size="34" dy="-24">−1</tspan><tspan dy="24">)</tspan></text>
</svg>
</body></html>
